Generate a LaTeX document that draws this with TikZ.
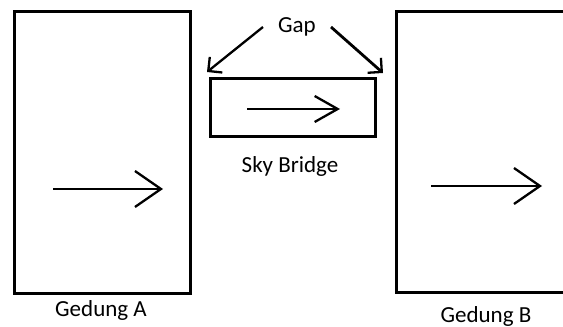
\documentclass[tikz,border=0pt]{standalone}
\usepackage{fontspec}
\setmainfont{Carlito}
\usetikzlibrary{arrows.meta}
\begin{document}
\begin{tikzpicture}[x=1pt,y=1pt,
  gedung/.style={draw, line width=3pt},
  panah/.style={line width=2.3pt, -{Straight Barb[length=26pt,width=36pt,line width=2.3pt]}},
  panahkecil/.style={line width=2.3pt, -{Straight Barb[length=10pt,width=20pt,line width=2.3pt]}},
  teks/.style={font=\fontsize{23}{27}\selectfont, anchor=base}]
\useasboundingbox (0,0) rectangle (563,327);
% gedung A
\draw[gedung] (14,33) rectangle (190,315);
\coordinate (a1) at (53,138);
\coordinate (a2) at (163,138);
\draw[panah] (a1) -- (a2);
\node[teks] (gedungA) at (101,10) {Gedung A};
% gedung B (terpotong di kanan)
\draw[gedung] (566,315) -- (396,315) -- (396,34) -- (566,34);
\coordinate (b1) at (431,141);
\coordinate (b2) at (542,141);
\draw[panah] (b1) -- (b2);
\node[teks] (gedungB) at (486,5) {Gedung B};
% sky bridge
\draw[gedung] (210,190) rectangle (375,248);
\coordinate (s1) at (247,218);
\coordinate (s2) at (340,218);
\draw[panah, -{Straight Barb[length=23pt,width=26pt,line width=2.3pt]}] (s1) -- (s2);
\node[teks] (sky) at (290,154) {Sky Bridge};
% gap
\node[font=\fontsize{23}{27}\selectfont, inner xsep=15pt] (gap) at (297,300) {Gap};
\coordinate (gapL) at (207,255);
\coordinate (gapR) at (383,254);
\draw[panahkecil] (gap.west) -- (gapL);
\draw[panahkecil, line width=2.8pt] (gap.east) -- (gapR);
\end{tikzpicture}
\end{document}
